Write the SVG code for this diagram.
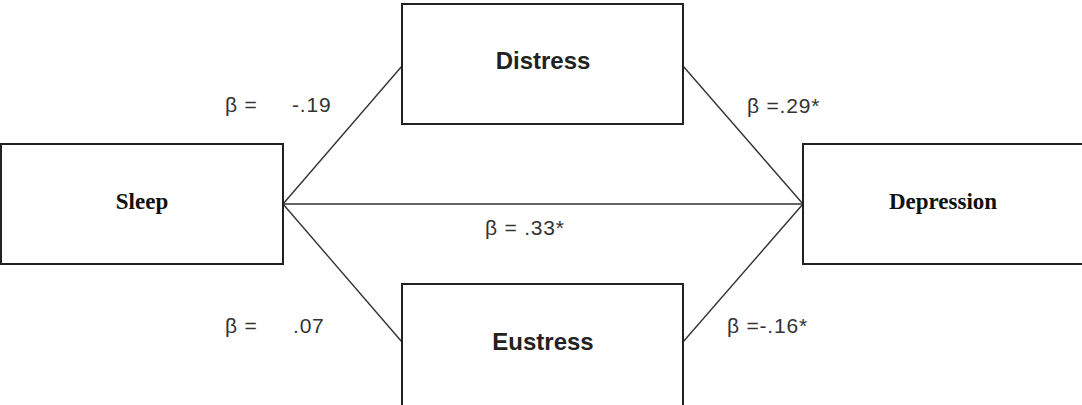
<svg xmlns="http://www.w3.org/2000/svg" width="1082" height="405" viewBox="0 0 1082 405">
<style>
.box{fill:#fff;stroke:#222;stroke-width:2}
.edge{stroke:#333;stroke-width:1.4;fill:none}
.serif{font-family:"Liberation Serif","Times New Roman",serif;font-weight:bold;font-size:23px;fill:#111;text-anchor:middle}
.sans{font-family:"Liberation Sans",Arial,sans-serif;font-weight:bold;font-size:24px;fill:#222;text-anchor:middle}
.lbl{font-family:"Liberation Sans",Arial,sans-serif;font-size:21px;letter-spacing:0.8px;fill:#333}
</style>
<rect width="1082" height="405" fill="#fff"/>
<g id="connectors">
<line class="edge" x1="283" y1="204" x2="402" y2="66"/>
<line class="edge" x1="683" y1="66" x2="803" y2="204"/>
<line class="edge" x1="283" y1="204" x2="803" y2="204"/>
<line class="edge" x1="283" y1="204" x2="402" y2="342"/>
<line class="edge" x1="683" y1="342" x2="803" y2="204"/>
</g>
<g id="sleep">
<rect class="box" x="1" y="144" width="282" height="120"/>
<text class="serif" x="142" y="209">Sleep</text>
</g>
<g id="distress">
<rect class="box" x="402" y="4" width="281" height="120"/>
<text class="sans" x="543" y="69">Distress</text>
</g>
<g id="eustress">
<rect class="box" x="402" y="284" width="281" height="125"/>
<text class="sans" x="543" y="350">Eustress</text>
</g>
<g id="depression">
<rect class="box" x="803" y="144" width="285" height="120"/>
<text class="serif" x="943" y="209">Depression</text>
</g>
<g id="labels">
<text class="lbl" x="225" y="112">β =</text>
<text class="lbl" x="292" y="112">-.19</text>
<text class="lbl" x="747" y="113">β =.29*</text>
<text class="lbl" x="485" y="235">β = .33*</text>
<text class="lbl" x="225" y="333">β =</text>
<text class="lbl" x="293" y="333">.07</text>
<text class="lbl" x="727" y="333">β =-.16*</text>
</g>
</svg>
